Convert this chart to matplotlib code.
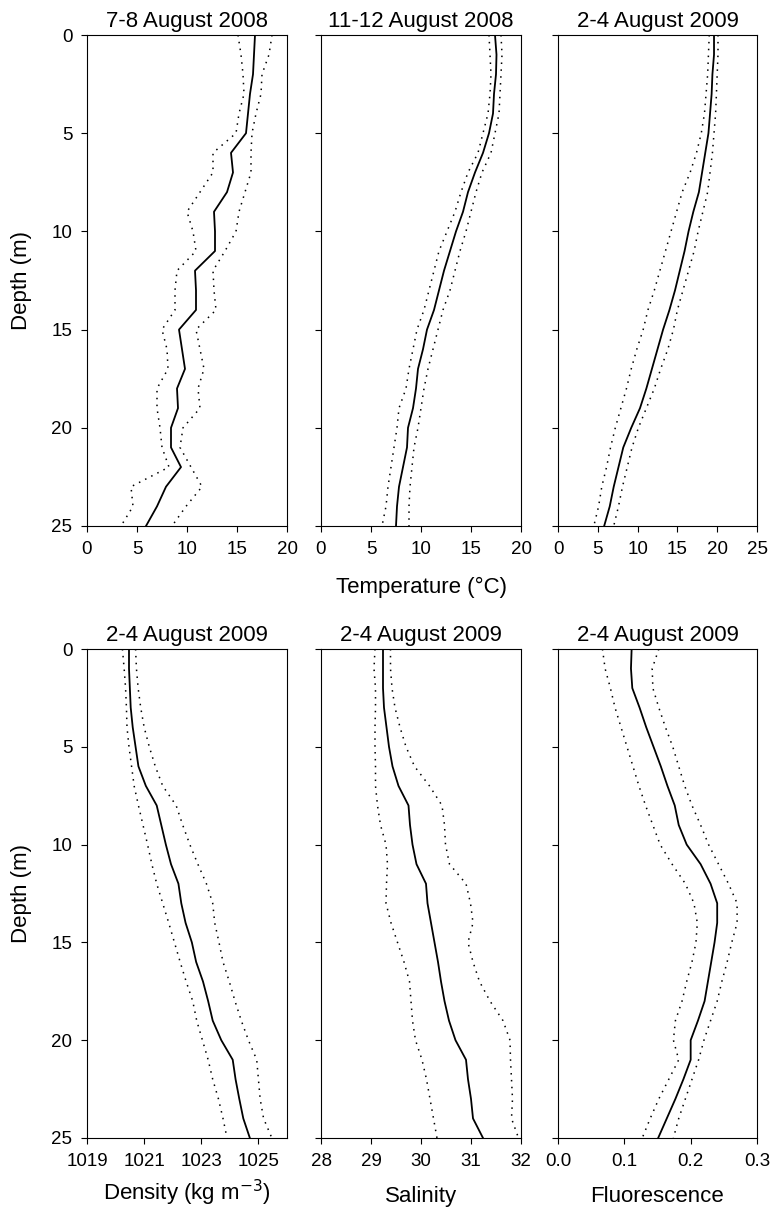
import matplotlib
matplotlib.use('Agg')
import matplotlib.pyplot as plt
import numpy as np

plt.rcParams['font.family'] = ['Liberation Sans', 'DejaVu Sans']

# depth in metres, 1 m bins
depth = np.arange(0, 26)

# ============================================
# Temperature profiles (mean and +/- band)
# ============================================
t0708_mean = [16.8, 16.7, 16.6, 16.3, 16.1, 15.9, 14.4, 14.6, 14.0, 12.7, 12.8, 12.8, 10.8,
              10.9, 10.9, 9.2, 9.5, 9.8, 9.0, 9.1, 8.4, 8.4, 9.4, 7.9, 7.0, 5.9]
t0708_low = [15.1, 15.4, 15.6, 15.7, 15.2, 14.9, 12.6, 12.6, 11.3, 10.0, 10.6, 10.9, 9.0,
             8.8, 8.8, 7.5, 8.0, 8.1, 7.0, 7.0, 7.3, 7.5, 8.2, 4.4, 4.6, 3.4]
t0708_high = [18.5, 18.2, 17.5, 17.4, 16.9, 16.5, 16.4, 16.4, 15.8, 15.2, 14.9, 13.8, 12.6,
              12.7, 12.9, 10.9, 11.3, 11.7, 11.1, 11.3, 9.6, 9.3, 10.4, 11.5, 9.9, 8.5]

t1112_mean = [17.4, 17.55, 17.5, 17.3, 17.2, 16.8, 16.2, 15.4, 14.7, 14.2, 13.5, 12.9, 12.3,
              11.8, 11.3, 10.6, 10.2, 9.7, 9.5, 9.2, 8.7, 8.6, 8.2, 7.8, 7.6, 7.5]
t1112_low = [16.8, 16.9, 17.0, 16.9, 16.7, 16.2, 15.7, 14.7, 14.0, 13.4, 12.6, 11.8, 11.3,
             10.8, 10.3, 9.6, 9.2, 8.8, 8.5, 7.8, 7.6, 7.3, 7.0, 6.7, 6.5, 6.1]
t1112_high = [18.0, 18.1, 18.0, 17.9, 17.8, 17.4, 17.0, 16.1, 15.5, 15.0, 14.5, 13.9, 13.4,
              12.9, 12.2, 11.7, 11.2, 10.7, 10.3, 10.0, 9.7, 9.3, 9.1, 8.9, 8.8, 8.8]

t0209_mean = [19.6, 19.6, 19.4, 19.3, 19.1, 18.9, 18.5, 18.1, 17.7, 17.0, 16.4, 15.9, 15.3,
              14.7, 14.0, 13.2, 12.5, 11.8, 11.1, 10.3, 9.2, 8.2, 7.6, 7.0, 6.5, 5.8]
t0209_low = [19.0, 18.9, 18.8, 18.6, 18.4, 18.0, 17.4, 16.6, 15.6, 14.9, 14.2, 13.5, 12.8,
             12.1, 11.3, 10.7, 9.9, 9.2, 8.6, 7.9, 7.2, 6.6, 6.1, 5.5, 5.1, 4.5]
t0209_high = [20.1, 20.1, 20.0, 19.9, 19.8, 19.6, 19.4, 19.1, 18.8, 18.2, 17.6, 17.1, 16.4,
              15.7, 15.0, 14.5, 13.8, 12.9, 12.1, 11.1, 10.1, 9.3, 8.7, 8.1, 7.6, 7.0]

# ============================================
# Density, salinity, fluorescence (2-4 August 2009)
# ============================================
dens_mean = [1020.47, 1020.47, 1020.5, 1020.53, 1020.6, 1020.7, 1020.8, 1021.06, 1021.44,
             1021.6, 1021.76, 1021.94, 1022.2, 1022.3, 1022.45, 1022.67, 1022.82, 1023.06,
             1023.24, 1023.4, 1023.7, 1024.1, 1024.2, 1024.33, 1024.47, 1024.7]
dens_low = [1020.24, 1020.3, 1020.35, 1020.38, 1020.4, 1020.47, 1020.56, 1020.65, 1020.8,
            1020.96, 1021.12, 1021.27, 1021.44, 1021.65, 1021.86, 1022.06, 1022.26, 1022.47,
            1022.7, 1022.84, 1023.04, 1023.24, 1023.4, 1023.6, 1023.76, 1023.9]
dens_high = [1020.7, 1020.73, 1020.79, 1020.88, 1021.0, 1021.18, 1021.39, 1021.65, 1022.12,
             1022.35, 1022.6, 1022.88, 1023.18, 1023.4, 1023.47, 1023.62, 1023.76, 1023.98,
             1024.18, 1024.4, 1024.65, 1024.94, 1025.0, 1025.06, 1025.18, 1025.47]

sal_mean = [29.24, 29.24, 29.24, 29.26, 29.31, 29.36, 29.43, 29.55, 29.75, 29.78, 29.83, 29.91,
            30.1, 30.13, 30.2, 30.27, 30.34, 30.4, 30.47, 30.56, 30.69, 30.9, 30.94, 31.0,
            31.04, 31.24]
sal_low = [29.08, 29.06, 29.09, 29.09, 29.08, 29.08, 29.09, 29.09, 29.13, 29.19, 29.3, 29.33,
           29.31, 29.3, 29.4, 29.53, 29.66, 29.77, 29.8, 29.83, 29.89, 30.02, 30.11, 30.18,
           30.25, 30.32]
sal_high = [29.39, 29.39, 29.42, 29.48, 29.58, 29.7, 29.87, 30.17, 30.42, 30.47, 30.49, 30.57,
            30.9, 30.99, 31.04, 30.94, 31.04, 31.17, 31.38, 31.64, 31.78, 31.79, 31.81, 31.83,
            31.81, 31.95]

fl_mean = [0.111, 0.110, 0.112, 0.123, 0.133, 0.144, 0.155, 0.165, 0.176, 0.182, 0.194, 0.215,
           0.230, 0.240, 0.240, 0.236, 0.231, 0.226, 0.221, 0.211, 0.200, 0.200, 0.189, 0.177,
           0.164, 0.151]
fl_low = [0.067, 0.071, 0.079, 0.086, 0.095, 0.104, 0.113, 0.122, 0.132, 0.143, 0.154, 0.172,
          0.192, 0.205, 0.210, 0.208, 0.202, 0.194, 0.187, 0.177, 0.174, 0.182, 0.167, 0.152,
          0.139, 0.127]
fl_high = [0.152, 0.142, 0.143, 0.152, 0.162, 0.173, 0.182, 0.191, 0.202, 0.215, 0.227, 0.242,
           0.257, 0.270, 0.270, 0.262, 0.255, 0.247, 0.240, 0.230, 0.220, 0.212, 0.202, 0.192,
           0.182, 0.174]

panels = [
    ('7-8 August 2008', t0708_mean, t0708_low, t0708_high, (0, 20), [0, 5, 10, 15, 20], None),
    ('11-12 August 2008', t1112_mean, t1112_low, t1112_high, (0, 20), [0, 5, 10, 15, 20], None),
    ('2-4 August 2009', t0209_mean, t0209_low, t0209_high, (0, 25), [0, 5, 10, 15, 20, 25], None),
    ('2-4 August 2009', dens_mean, dens_low, dens_high, (1019, 1026), [1019, 1021, 1023, 1025],
     'Density (kg m$^{-3}$)'),
    ('2-4 August 2009', sal_mean, sal_low, sal_high, (28, 32), [28, 29, 30, 31, 32], 'Salinity'),
    ('2-4 August 2009', fl_mean, fl_low, fl_high, (0, 0.3), [0.0, 0.1, 0.2, 0.3], 'Fluorescence'),
]

W, H = 771, 1212
fig = plt.figure(figsize=(W / 100, H / 100), dpi=100)

cols_px = [(87, 287), (321, 521), (558, 757)]
rows_px = [(35, 526), (649, 1138)]

for i, (title, mean, low, high, xlim, xticks, xlabel) in enumerate(panels):
    r, c = divmod(i, 3)
    x0, x1 = cols_px[c]
    y0, y1 = rows_px[r]
    ax = fig.add_axes([x0 / W, 1 - y1 / H, (x1 - x0) / W, (y1 - y0) / H])

    ax.plot(mean, depth, color='black', lw=1.3)
    ax.plot(low, depth, color='black', lw=1.1, linestyle=(0, (1, 3.5)))
    ax.plot(high, depth, color='black', lw=1.1, linestyle=(0, (1, 3.5)))

    ax.set_xlim(*xlim)
    ax.set_ylim(25, 0)
    ax.set_xticks(xticks)
    if xlim == (0, 0.3):
        ax.set_xticklabels(['0.0', '0.1', '0.2', '0.3'])
    ax.set_yticks([0, 5, 10, 15, 20, 25])
    ax.tick_params(direction='out', length=4.5, width=0.8, labelsize=13.5, pad=6)
    for s in ax.spines.values():
        s.set_linewidth(0.8)
    ax.set_title(title, fontsize=16, pad=6)

    if c == 0:
        ax.set_ylabel('Depth (m)', fontsize=16, labelpad=14)
    else:
        ax.set_yticklabels([])

    if xlabel is not None:
        pad = 6 if c == 0 else 12
        ax.set_xlabel(xlabel, fontsize=16, labelpad=pad)
    if r == 0 and c == 1:
        ax.set_xlabel('Temperature (°C)', fontsize=16, labelpad=14)

fig.savefig('out.png', dpi=100)
